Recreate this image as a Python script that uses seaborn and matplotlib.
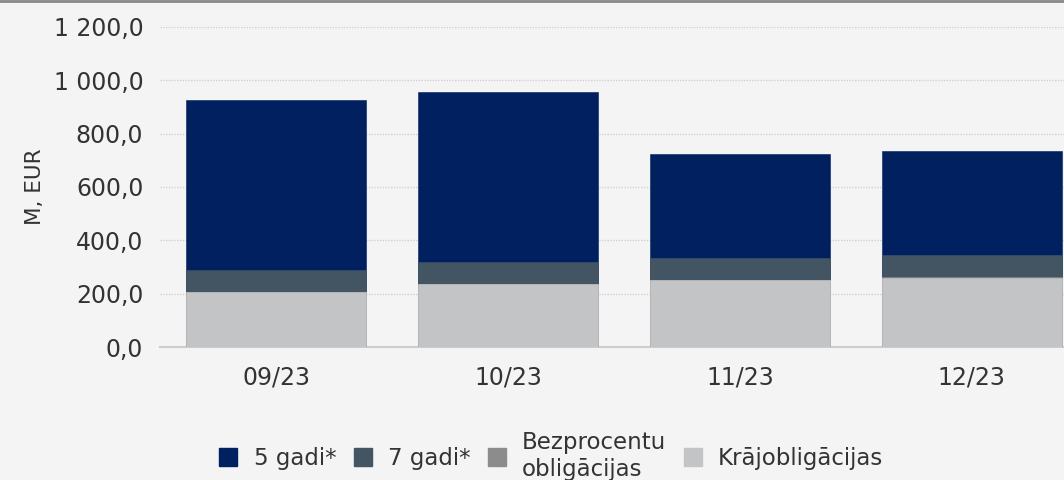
import numpy as np
import pandas as pd
import seaborn as sns
import matplotlib.pyplot as plt
from matplotlib.ticker import FuncFormatter, FixedLocator
from matplotlib.lines import Line2D

months = ["09/23", "10/23", "11/23", "12/23"]
gadi5 = [637, 637, 390, 390]
gadi7 = [81, 81, 81, 82]
bezprocentu = [3, 3, 3, 3]
kraj = [205, 235, 250, 259]

series = ["5 gadi*", "7 gadi*", "Bezprocentu\nobligācijas", "Krājobligācijas"]
colors = ["#002060", "#435563", "#8c8c8c", "#c3c4c6"]

df = pd.DataFrame({"month": months, "g5": gadi5, "g7": gadi7, "bez": bezprocentu, "kraj": kraj})
# cumulative heights, drawn from the tallest down so they overlap into a stack
df["c_kraj"] = df["kraj"]
df["c_bez"] = df["c_kraj"] + df["bez"]
df["c_g7"] = df["c_bez"] + df["g7"]
df["c_g5"] = df["c_g7"] + df["g5"]

bg = "#f4f4f4"
sns.set_style("white")
plt.rcParams["font.family"] = ["DejaVu Sans"]

fig = plt.figure(figsize=(10.64, 4.8), dpi=100, facecolor=bg)
ax = fig.add_axes([0.1504, 0.277, 0.872, 0.667])
ax.set_facecolor(bg)

for col, c in zip(["c_g5", "c_g7", "c_bez", "c_kraj"], colors):
    sns.barplot(data=df, x="month", y=col, color=c, width=0.776, saturation=1,
                ax=ax, edgecolor=c, linewidth=0.4, zorder=3)

ax.set_ylim(0, 1200)
ax.set_xlim(-0.5, 3.5)
ax.yaxis.set_major_locator(FixedLocator(np.arange(0, 1201, 200)))
ax.yaxis.set_major_formatter(FuncFormatter(lambda v, p: f"{v:,.1f}".replace(",", " ").replace(".", ",")))
ax.grid(axis="y", color="#d2d2d2", linestyle=(0, (1, 1)), linewidth=1.0, zorder=0)
ax.set_axisbelow(True)

for s in ["top", "right", "left"]:
    ax.spines[s].set_visible(False)
ax.spines["bottom"].set_color("#cccccc")
ax.spines["bottom"].set_linewidth(1.5)

ax.tick_params(axis="y", length=0, pad=12, labelsize=17, labelcolor="#333333")
ax.tick_params(axis="x", which="major", length=0, pad=13, labelsize=17, labelcolor="#333333")
ax.set_xticks([-0.5, 0.5, 1.5, 2.5, 3.5], minor=True)
ax.tick_params(axis="x", which="minor", length=9, width=1.5, color="#cccccc")

ax.set_xlabel("")
ax.set_ylabel("M, EUR", fontsize=15.5, color="#333333", labelpad=6)

handles = [Line2D([0], [0], marker="s", linestyle="", markersize=13, markerfacecolor=c,
                  markeredgecolor=c) for c in colors]
fig.legend(handles, series, loc="center", bbox_to_anchor=(0.518, 0.05), ncol=4, frameon=False,
           fontsize=16.5, labelcolor="#333333", handlelength=0.8, handletextpad=0.7,
           columnspacing=0.75, labelspacing=0)

fig.add_artist(Line2D([0, 1], [0.998, 0.998], color="#888888", linewidth=2, transform=fig.transFigure))

fig.savefig("out.png", dpi=100, facecolor=bg)
